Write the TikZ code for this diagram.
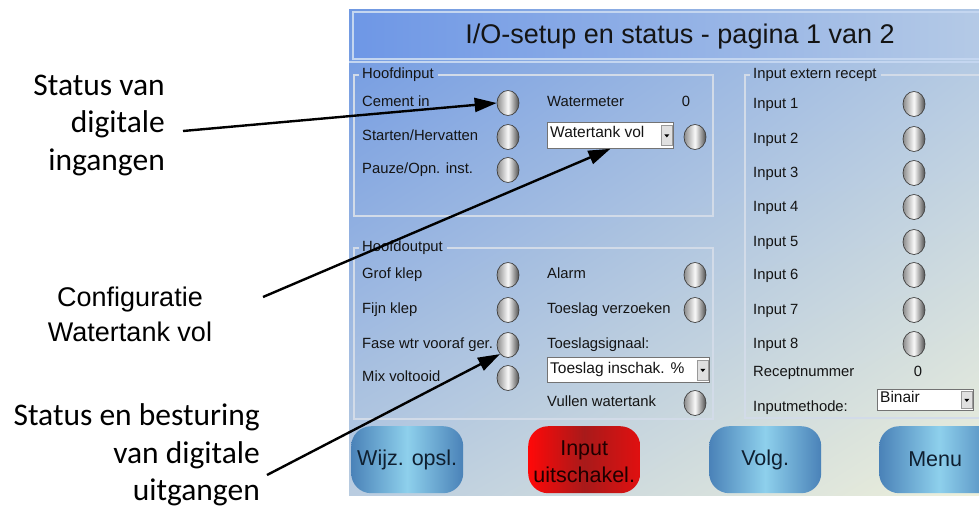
\documentclass[tikz,border=0pt]{standalone}
\usepackage{fontspec}
\setmainfont{Liberation Sans}
\newfontfamily\calib{Carlito}
\usetikzlibrary{shapes.geometric,arrows.meta,calc,shadings}

\definecolor{scrTL}{HTML}{6F98E2}
\definecolor{scrTR}{HTML}{B0C7E4}
\definecolor{scrBL}{HTML}{B9CCE0}
\definecolor{scrBR}{HTML}{EEF0DA}
\definecolor{barL}{HTML}{6E97E6}
\definecolor{barR}{HTML}{B6CBE6}
\definecolor{barEdge}{HTML}{C4D6F0}
\definecolor{frameln}{HTML}{D2DBE8}
\definecolor{btnEdge}{HTML}{4A82B8}
\definecolor{btnMid}{HTML}{8ED0EC}
\definecolor{btnText}{HTML}{0F1F30}
\definecolor{redL}{HTML}{FF0808}
\definecolor{redM}{HTML}{A81A1A}
\definecolor{redR}{HTML}{E01010}
\definecolor{txtdark}{HTML}{141414}

\begin{document}
\begin{tikzpicture}[x=1pt,y=-1pt,
  lbl/.style={font=\fontsize{14.8}{17}\selectfont, text=txtdark, anchor=west,
    inner sep=0pt, text height=0.72em, text depth=0pt},
  val/.style={lbl, anchor=center},
  ddtext/.style={lbl, font=\fontsize{15.5}{18}\selectfont},
  led/.style={ellipse, draw=black!75, line width=0.7pt, minimum width=22pt,
    minimum height=25pt, inner sep=0pt,
    left color=black!45, right color=black!70, middle color=black!2},
  dropbox/.style={draw=black!55, fill=white, line width=0.8pt, anchor=north west,
    inner sep=0pt},
  ddbtn/.style={draw=black!40, fill=black!12, line width=0.5pt, inner sep=0pt,
    minimum width=11pt, minimum height=20pt},
  frame/.style={draw=frameln, line width=1.3pt},
  btn/.style={anchor=north west, rounded corners=20pt, inner sep=0pt,
    minimum width=112pt, minimum height=67pt,
    font=\fontsize{21.5}{25}\selectfont, text=btnText,
    left color=btnEdge, right color=btnEdge, middle color=btnMid},
  redbtn/.style={btn, left color=redL, right color=redR, middle color=redM},
  btntext/.style={font=\fontsize{21.5}{27}\selectfont, align=center, inner sep=0pt,
    text=black!88!red},
  note/.style={font=\calib\fontsize{31.5}{37.5}\selectfont, text=black, inner sep=0pt},
  notearial/.style={font=\fontsize{27}{35}\selectfont, text=black, inner sep=0pt},
  pointer/.style={draw=black, line width=2.4pt, -{Triangle[length=22pt,width=14pt]}}
]
\useasboundingbox (0,0) rectangle (979,506);
\clip (0,0) rectangle (979,506);

% ---------- screen background ----------
\shade[upper left=scrTL, upper right=scrTR, lower left=scrBL, lower right=scrBR]
  (349,9) rectangle (995,495);

% title bar
\draw[draw=barEdge, line width=1.2pt, left color=barL, right color=barR]
  (353,12) rectangle (995,59);
\draw[draw=barEdge, line width=1.2pt] (349,62) -- (995,62);
\node[font=\fontsize{27}{30}\selectfont, text=txtdark] (title) at (680,37)
  {I/O-setup en status - pagina 1 van 2};

% ---------- Hoofdinput ----------
\node[lbl] (hin) at (362,75) {Hoofdinput};
\draw[frame] ([xshift=-3pt]hin.west) -- (354,75) -- (354,216) -- (713,216)
  -- (713,75) -- ([xshift=4pt]hin.east);

\node[lbl] (lCement) at (362,103) {Cement in};
\node[lbl] (lStart) at (362,137) {Starten/Hervatten};
\node[lbl] (lPauze) at (362,170) {Pauze/Opn. inst.};
\node[led] (ledCement) at (508,103) {};
\node[led] (ledStart) at (508,137) {};
\node[led] (ledPauze) at (508,170) {};
\node[lbl] (lWater) at (547,103) {Watermeter};
\node[val] (vWater) at (686,103) {0};
\node[dropbox, minimum width=126pt, minimum height=26pt] (ddWater) at (547,122) {};
\node[ddtext] at (550,134) {Watertank vol};
\node[ddbtn] (ddWaterBtn) at ($(ddWater.east)+(-7,0)$) {};
\fill[black] ($(ddWaterBtn.center)+(-2.5,-1)$) -- ++(5,0) -- ++(-2.5,3) -- cycle;
\node[led] (ledTank) at (695,137) {};

% ---------- Hoofdoutput ----------
\node[lbl] (hout) at (362,248) {Hoofdoutput};
\draw[frame] ([xshift=-3pt]hout.west) -- (354,248) -- (354,419) -- (713,419)
  -- (713,248) -- ([xshift=4pt]hout.east);

\node[lbl] (lGrof) at (362,275) {Grof klep};
\node[lbl] (lFijn) at (362,310) {Fijn klep};
\node[lbl] (lFase) at (362,345) {Fase wtr vooraf ger.};
\node[lbl] (lMix) at (362,378) {Mix voltooid};
\node[led] (ledGrof) at (508,275) {};
\node[led] (ledFijn) at (508,310) {};
\node[led] (ledFase) at (508,345) {};
\node[led] (ledMix) at (508,378) {};
\node[lbl] (lAlarm) at (547,275) {Alarm};
\node[lbl] (lVerz) at (547,310) {Toeslag verzoeken};
\node[lbl] (lSig) at (547,345) {Toeslagsignaal:};
\node[dropbox, minimum width=162pt, minimum height=25pt] (ddSig) at (547,357) {};
\node[ddtext] at (550,369.5) {Toeslag inschak. \%};
\node[ddbtn] (ddSigBtn) at ($(ddSig.east)+(-7,0)$) {};
\fill[black] ($(ddSigBtn.center)+(-2.5,-1)$) -- ++(5,0) -- ++(-2.5,3) -- cycle;
\node[lbl] (lVul) at (547,403) {Vullen watertank};
\node[led] (ledAlarm) at (695,275) {};
\node[led] (ledVerz) at (695,310) {};
\node[led] (ledVul) at (695,403) {};

% ---------- Input extern recept ----------
\node[lbl] (hext) at (753,75) {Input extern recept};
\draw[frame] ([xshift=-3pt]hext.west) -- (745,75) -- (745,418) -- (995,418);
\draw[frame] ([xshift=4pt]hext.east) -- (995,75);

\foreach \i/\y in {1/105,2/140,3/174,4/208,5/243,6/276,7/311,8/345}{
  \node[lbl] (lIn\i) at (753,\y) {Input \i};
  \node[led] (ledIn\i) at (914,\y-1) {};
}
\node[lbl] (lRec) at (753,373) {Receptnummer};
\node[val] (vRec) at (918,373) {0};
\node[lbl] (lMeth) at (753,408) {Inputmethode:};
\node[dropbox, minimum width=96pt, minimum height=21pt] (ddMeth) at (877,389) {};
\node[ddtext] at (880,399) {Binair};
\node[ddbtn, minimum height=17pt] (ddMethBtn) at ($(ddMeth.east)+(-7,0)$) {};
\fill[black] ($(ddMethBtn.center)+(-2.5,-1)$) -- ++(5,0) -- ++(-2.5,3) -- cycle;

% ---------- buttons ----------
\node[btn] (bSave) at (351,426) {\raisebox{-3pt}{Wijz. opsl.}};
\node[redbtn] (bOff) at (528,426) {};
\node[btntext] (bOffText) at ([yshift=-2pt]bOff.center) {Input\\uitschakel.};
\node[btn] (bNext) at (709,426) {\raisebox{-3pt}{Volg.}};
\node[btn, minimum width=120pt] (bMenu) at (879,426) {\hspace*{-8pt}\raisebox{-2pt}{Menu}};

% ---------- annotations ----------
\node[note, align=right, anchor=east] (nIn) at (165,125) {Status van\\digitale\\ingangen};
\node[notearial, align=center] (nCfg) at (130,314) {Configuratie\\Watertank vol};
\node[note, align=right, anchor=east] (nOut) at (260,455)
  {Status en besturing\\van digitale\\uitgangen};

\coordinate (sIn) at (183,131);
\coordinate (sCfg) at (263,297);
\coordinate (sOut) at (267,475);
\draw[pointer] (sIn) -- (ledCement.west);
\draw[pointer] (sCfg) -- (ddWater.south);
\draw[pointer] (sOut) -- (ledFase.south west);
\end{tikzpicture}
\end{document}
